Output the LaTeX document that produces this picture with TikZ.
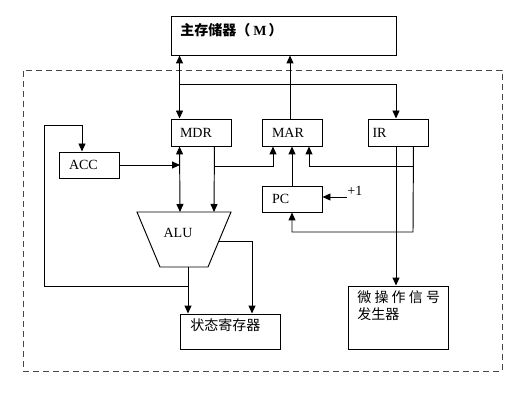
\documentclass[tikz,border=0pt]{standalone}
\usepackage{fontspec}
\setmainfont{Liberation Serif}
\newfontfamily\cjk{Noto Sans CJK SC}
\usetikzlibrary{arrows.meta}
\begin{document}
\begin{tikzpicture}[x=1pt,y=-1pt, line width=0.95pt,
  box/.style={draw, rectangle, inner ysep=0pt, align=left, font=\fontsize{14}{17}\selectfont},
  arr/.style={-{Triangle[length=8pt,width=7pt]}},
  biarr/.style={{Triangle[length=8pt,width=7pt]}-{Triangle[length=8pt,width=7pt]}},
  lbl/.style={inner sep=0pt, font=\fontsize{14}{17}\selectfont},
  cjklbl/.style={inner sep=0pt, font=\fontsize{14}{17}\selectfont\cjk},
  cpubox/.style={draw=black!72, dash pattern=on 6pt off 4pt, inner sep=0pt}]
\useasboundingbox (0,0) rectangle (528,409);

% CPU dashed frame
\node[cpubox, minimum width=479pt, minimum height=301pt] (cpu) at (262.5,220.5) {};

% main memory
\node[draw, minimum width=225pt, minimum height=39pt, inner sep=0pt] (mem) at (283.5,35.5) {};
\node[lbl, anchor=west] (memtxt) at (180,30) {{\cjk\bfseries 主存储器（}\hspace{3pt}{\bfseries M}\hspace{2pt}{\cjk\bfseries ）}};

% registers
\node[box, minimum width=60pt, minimum height=27pt, text width=42pt, inner xsep=9pt] (mdr) at (201,132.5) {MDR};
\node[box, minimum width=60pt, minimum height=27pt, text width=40pt, inner xsep=10pt] (mar) at (292,132.5) {MAR};
\node[box, minimum width=60pt, minimum height=27pt, text width=51pt, inner xsep=4.5pt] (ir) at (398,132.5) {IR};
\node[box, minimum width=60pt, minimum height=26pt, text width=40pt, inner xsep=10pt] (acc) at (89,165) {ACC};
\node[box, minimum width=60pt, minimum height=26pt, text width=40pt, inner xsep=10pt] (pc) at (292,199) {PC};

% status register and micro-op generator
\node[draw, minimum width=100pt, minimum height=35pt, inner sep=0pt] (st) at (230,331.5) {};
\node[cjklbl, anchor=west] (sttxt) at (190,325) {状态寄存器};
\node[draw, minimum width=100pt, minimum height=63pt, inner sep=0pt] (mic) at (398,317.5) {};
\node[cjklbl, anchor=north west, align=left] (mictxt) at (357,290) {微 操 作 信 号\\发生器};

% ALU
\coordinate (aTL) at (137,212);
\coordinate (aTR) at (231,212);
\coordinate (aBR) at (208,267);
\coordinate (aBL) at (160,267);
\draw (aTL) -- (aTR) -- (aBR) -- (aBL) -- cycle;
\node[lbl] (alu) at (178,233) {ALU};
\coordinate (aluin1) at (180,212);
\coordinate (aluin2) at (214,212);
\coordinate (aluout) at (188,267);
\coordinate (alur) at (219,241);

% connectors
\draw[biarr] ([xshift=9pt]mem.south west) -- ([xshift=9pt]mdr.north west);
\coordinate (bus) at (180,84);
\draw[arr] (bus) -| ([xshift=-2pt]ir.north);
\draw[arr] ([xshift=-2pt]mar.north) -- ([xshift=-2pt]mar.north |- mem.south);
\draw[biarr] ([xshift=9pt]mdr.south west) -- (aluin1);
\draw[arr] (acc.east) -- (acc.east -| aluin1);
\draw[arr] ([xshift=-17pt]mdr.south east) -- (aluin2);
\coordinate (j1) at (214,166);
\draw[arr] (j1) -| ([xshift=-19pt]mar.south);
\draw[arr] (pc.north) -- (mar.south);
\coordinate (j2) at (413,166);
\draw[arr] (j2) -| ([xshift=17pt]mar.south);
\coordinate (pcin) at (413,232);
\draw[arr] ([xshift=-15pt]ir.south east) -- (pcin) -| (pc.south);
\draw[arr] ([xshift=-2pt]ir.south) -- ([xshift=-2pt]ir.south |- mic.north);
\node[lbl, anchor=base west] (plus) at (347,196) {+1};
\draw[arr] ([yshift=-1pt]plus.base west) -- ([yshift=-1pt]plus.base west -| pc.east);
\draw[arr] (aluout) -- (aluout |- st.north);
\coordinate (loopL) at (44,286);
\coordinate (loopT) at (44,125);
\draw[arr] (aluout |- loopL) -- (loopL) -- (loopT) -| ([xshift=-7pt]acc.north);
\draw[arr] (alur) -| ([xshift=22pt]st.north);
\end{tikzpicture}
\end{document}
